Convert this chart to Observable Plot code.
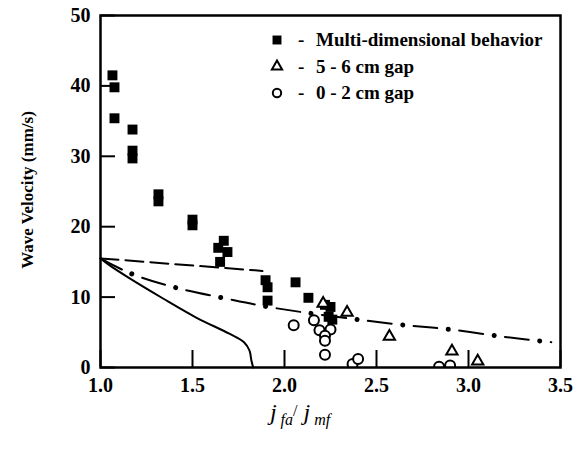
<!DOCTYPE html>
<html><head>
<meta charset="utf-8">
<script src="https://cdn.jsdelivr.net/npm/d3@7"></script>
<script src="https://cdn.jsdelivr.net/npm/@observablehq/plot@0.6"></script>
<style>
body{margin:0;background:#fff}
svg, svg text, svg g{font-family:"Liberation Serif","DejaVu Serif","Noto Serif",serif !important;}
#chart svg{overflow:visible}
</style>
</head><body><div id="chart"></div>
<script>
// Multi-dimensional behavior (filled squares)
const multiX = [1.065,1.076,1.076,1.174,1.174,1.174,1.315,1.315,1.50,1.50,1.67,1.64,1.69,1.65,1.897,1.908,1.908,2.06,2.13,2.22,2.25,2.24,2.26];
const multiY = [41.5,39.8,35.4,33.8,30.8,29.7,24.6,23.6,21.0,20.2,18.0,17.0,16.4,15.0,12.4,11.4,9.5,12.1,9.9,8.9,8.6,7.2,6.8];
// 5 - 6 cm gap (open triangles)
const gap56X = [2.21,2.34,2.57,2.91,3.05];
const gap56Y = [9.1,7.8,4.4,2.3,0.9];
// 0 - 2 cm gap (open circles)
const gap02X = [2.05,2.16,2.19,2.25,2.22,2.22,2.22,2.37,2.40,2.84,2.90];
const gap02Y = [6.0,6.7,5.3,5.4,4.5,3.8,1.8,0.5,1.2,0.1,0.3];
// model curves
const dashX = [1.0,1.84,1.88];
const dashY = [15.5,13.8,13.7];
const dashDotX = [1.0,1.16,1.40,1.68,1.96,2.59,2.90,3.21,3.45];
const dashDotY = [15.5,13.4,11.4,9.8,8.4,6.2,5.4,4.3,3.6];
const solidX = [1.0,1.05,1.15,1.34,1.52,1.70,1.78,1.81,1.82,1.83];
const solidY = [15.5,14.5,12.8,9.8,7.1,4.8,3.6,2.4,1.0,0.0];
const xTicks = [1.0,1.5,2.0,2.5,3.0,3.5];
const yTicks = [0,10,20,30,40,50];
const legendLabels = ["Multi-dimensional behavior","5 - 6 cm gap","0 - 2 cm gap"];

const zip = (xs, ys) => xs.map((x, i) => ({x, y: ys[i]}));
const multi = zip(multiX, multiY), g56 = zip(gap56X, gap56Y), g02 = zip(gap02X, gap02Y);
const dash = zip(dashX, dashY), dashDot = zip(dashDotX, dashDotY), solid = zip(solidX, solidY);

const W = 581, H = 458, mL = 100, mR = 21, mT = 15, mB = 91;
const fw = W - mL - mR, fh = H - mT - mB;
const FONT = "'Liberation Serif','DejaVu Serif','Noto Serif',serif";

const plot = Plot.plot({
  width: W, height: H,
  marginLeft: mL, marginRight: mR, marginTop: mT, marginBottom: mB,
  style: {fontSize: "20px", fontWeight: "bold", fontFamily: FONT, color: "black", background: "white"},
  x: {domain: [1.0, 3.5], ticks: xTicks, tickFormat: d3.format(".1f")},
  y: {domain: [0, 50], ticks: yTicks},
  marks: [
    Plot.line(solid, {x: "x", y: "y", stroke: "black", strokeWidth: 2, curve: "catmull-rom"}),
    Plot.line(dash, {x: "x", y: "y", stroke: "black", strokeWidth: 2, strokeDasharray: "18,7"}),
    Plot.line(dashDot, {x: "x", y: "y", stroke: "black", strokeWidth: 2, curve: "catmull-rom", strokeDasharray: "24,11,0,11"}),
    Plot.line(dashDot, {x: "x", y: "y", stroke: "black", strokeWidth: 5, strokeLinecap: "round", curve: "catmull-rom", strokeDasharray: "0.01,45.99", strokeDashoffset: -35}),
    Plot.dot(multi, {x: "x", y: "y", symbol: "square", r: 5.6, fill: "black", clip: true}),
    Plot.dot(g56, {x: "x", y: "y", symbol: "triangle", r: 4.2, stroke: "black", strokeWidth: 2, fill: "white", clip: true}),
    Plot.dot(g02, {x: "x", y: "y", symbol: "circle", r: 5, stroke: "black", strokeWidth: 2, fill: "white", clip: true}),
    // inward tick marks
    Plot.ruleX(xTicks, {x: d => d, insetTop: fh - 17, stroke: "black", strokeWidth: 2}),
    Plot.ruleY(yTicks, {y: d => d, insetRight: fw - 15, stroke: "black", strokeWidth: 2}),
    Plot.axisX({ticks: xTicks, tickSize: 0, tickPadding: 10, tickFormat: d3.format(".1f"), label: null, fontFamily: FONT}),
    Plot.axisY({ticks: yTicks, tickSize: 0, tickPadding: 10, label: null, fontFamily: FONT}),
    Plot.frame({stroke: "black", strokeWidth: 2.5})
  ]
});
document.getElementById("chart").append(plot);

const svg = d3.select(plot);
svg.selectAll("text").attr("font-family", FONT);
// Y axis title
svg.append("text").attr("transform", "translate(33,190) rotate(-90)")
  .attr("text-anchor", "middle").attr("font-size", 17).attr("font-weight", "bold").attr("font-family", FONT)
  .text("Wave Velocity (mm/s)");
// X axis title with subscripts
const xt = svg.append("text").attr("x", 300).attr("y", 420).attr("text-anchor", "middle").attr("font-family", FONT)
  .attr("font-style", "italic").attr("font-weight", "normal").attr("font-size", 24);
xt.append("tspan").text("j");
xt.append("tspan").attr("font-size", 16).attr("dy", 5).text(" fa");
xt.append("tspan").attr("font-size", 16).attr("dy", -9).attr("font-style", "normal").text("/");
xt.append("tspan").attr("dy", 4).text(" j");
xt.append("tspan").attr("font-size", 16).attr("dy", 5).text(" mf");

// Legend
const lg = svg.append("g").attr("text-anchor", "start").attr("font-family", FONT);
const rows = [40, 66.5, 93];
const sym = [d3.symbolSquare, d3.symbolTriangle, d3.symbolCircle];
const sizes = [80, 45, 55];
rows.forEach((y, i) => {
  const p = lg.append("path").attr("d", d3.symbol(sym[i], sizes[i])())
    .attr("transform", `translate(277,${y})`);
  if (i === 0) p.attr("fill", "black");
  else p.attr("fill", "white").attr("stroke", "black").attr("stroke-width", 2);
  lg.append("text").attr("x", 298).attr("y", y + 6).attr("font-size", 19).attr("font-weight", "bold").text("-");
  lg.append("text").attr("x", 316).attr("y", y + 6).attr("font-size", 19).attr("font-weight", "bold").text(legendLabels[i]);
});
</script>
</body></html>
